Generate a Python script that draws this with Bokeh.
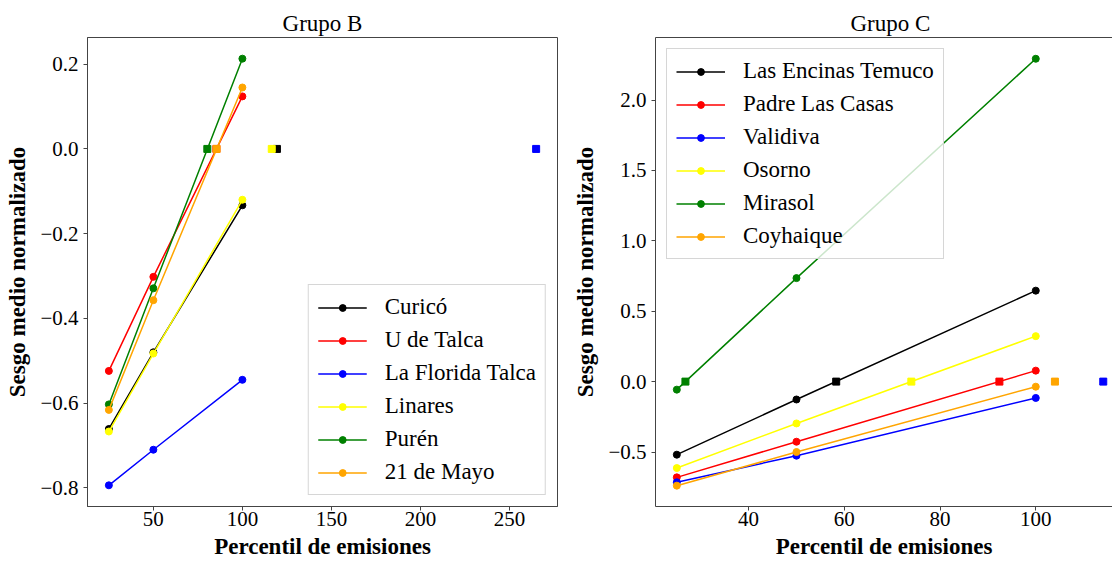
from bokeh.plotting import figure
from bokeh.layouts import row
from bokeh.models import FixedTicker, CustomJSTickFormatter, LinearAxis, Range1d
from bokeh.embed import file_html
from bokeh.resources import INLINE

# Emission percentiles evaluated for every station
percentiles = [25, 50, 100]

# ---- Grupo B ----
stations_b = ["Curicó", "U de Talca", "La Florida Talca", "Linares", "Purén", "21 de Mayo"]
colors_b = ["black", "red", "blue", "yellow", "green", "orange"]
bias_b = [
    [-0.661, -0.480, -0.133],
    [-0.524, -0.302, 0.124],
    [-0.794, -0.710, -0.545],
    [-0.667, -0.483, -0.120],
    [-0.603, -0.329, 0.213],
    [-0.616, -0.357, 0.145],
]
# percentile where the normalized bias reaches zero
zero_b = [119.4, 85.4, 265.0, 116.5, 80.3, 85.5]

# ---- Grupo C ----
stations_c = ["Las Encinas Temuco", "Padre Las Casas", "Validiva", "Osorno", "Mirasol", "Coyhaique"]
colors_c = ["black", "red", "blue", "yellow", "green", "orange"]
bias_c = [
    [-0.519, -0.127, 0.646],
    [-0.680, -0.427, 0.078],
    [-0.715, -0.526, -0.116],
    [-0.614, -0.297, 0.323],
    [-0.057, 0.735, 2.293],
    [-0.739, -0.500, -0.036],
]
zero_c = [58.3, 92.4, 114.1, 74.0, 26.8, 104.0]

xticks_b = [50, 100, 150, 200, 250]
yticks_b = [-0.8, -0.6, -0.4, -0.2, 0.0, 0.2]
xticks_c = [40, 60, 80, 100]
yticks_c = [-0.5, 0.0, 0.5, 1.0, 1.5, 2.0]

SERIF = "Liberation Serif"
FRAME = "#444444"

minus_fmt = CustomJSTickFormatter(code="""
    if (Math.abs(tick) < 1e-9) { return (0).toFixed(1); }
    return (tick < 0 ? '\u2212' : '') + Math.abs(tick).toFixed(1);
""")


def style(p, title, xticks, yticks, align="center", title_offset=0):
    p.title.text = title
    p.title.align = align
    p.title.offset = title_offset
    p.title.text_font = SERIF
    p.title.text_font_size = "23px"
    p.title.text_font_style = "normal"
    p.title.text_color = "black"
    p.title.standoff = 4
    p.xgrid.visible = False
    p.ygrid.visible = False
    p.background_fill_color = "white"
    p.border_fill_color = "white"
    for ax in (p.xaxis[0], p.yaxis[0]):
        ax.major_label_text_font = SERIF
        ax.major_label_text_font_size = "21px"
        ax.major_label_text_color = "black"
        ax.axis_label_text_font = SERIF
        ax.axis_label_text_font_size = "23px"
        ax.axis_label_text_font_style = "bold"
        ax.axis_label_text_color = "black"
        ax.minor_tick_line_color = None
        ax.major_tick_in = 0
        ax.major_tick_out = 4
        ax.axis_line_color = FRAME
        ax.major_tick_line_color = FRAME
    p.xaxis[0].ticker = FixedTicker(ticks=xticks)
    p.yaxis[0].ticker = FixedTicker(ticks=yticks)
    p.yaxis[0].formatter = minus_fmt
    p.xaxis[0].axis_label = "Percentil de emisiones"
    p.yaxis[0].axis_label = "Sesgo medio normalizado"
    p.xaxis[0].major_label_standoff = 1
    p.xaxis[0].axis_label_standoff = 5
    p.yaxis[0].major_label_standoff = 5
    p.yaxis[0].axis_label_standoff = 7


def draw(p, names, colors, values, zeros):
    for name, col, vals in zip(names, colors, values):
        p.line(percentiles, vals, line_color=col, line_width=1.5, legend_label=name)
        p.scatter(percentiles, vals, marker="circle", size=7, fill_color=col,
                  line_color=col, legend_label=name)
    for col, z in zip(colors, zeros):
        p.scatter([z], [0.0], marker="square", size=7, fill_color=col, line_color=col)


def style_legend(p, location):
    lg = p.legend[0]
    lg.location = location
    lg.margin = 11
    lg.padding = 9
    lg.spacing = 7
    lg.label_text_font = SERIF
    lg.label_text_font_size = "23px"
    lg.label_text_color = "black"
    lg.label_standoff = 18
    lg.glyph_width = 49
    lg.glyph_height = 17
    lg.label_height = 26
    lg.border_line_color = "#cccccc"
    lg.border_line_alpha = 0.8
    lg.background_fill_color = "white"
    lg.background_fill_alpha = 0.8


p1 = figure(width=568, height=561,
            x_range=Range1d(13, 277), y_range=Range1d(-0.844, 0.263),
            min_border_left=87, min_border_right=11, min_border_top=37, min_border_bottom=53,
            output_backend="svg", toolbar_location=None)
p1.outline_line_color = FRAME
style(p1, "Grupo B", xticks_b, yticks_b)
draw(p1, stations_b, colors_b, bias_b, zero_b)
style_legend(p1, "bottom_right")

p2 = figure(width=544, height=561,
            x_range=Range1d(20.545, 116.03), y_range=Range1d(-0.887, 2.444),
            min_border_left=87, min_border_right=0, min_border_top=37, min_border_bottom=53,
            output_backend="svg", toolbar_location=None)
p2.outline_line_color = None
# the panel is wider than what is shown, so the title sits right of the visible centre
style(p2, "Grupo C", xticks_c, yticks_c, align="left", title_offset=195)
# top edge of the frame, the panel runs off to the right
top = LinearAxis(ticker=FixedTicker(ticks=[]), major_label_text_font_size="0px",
                 major_tick_out=0, major_tick_in=0, minor_tick_line_color=None,
                 axis_line_color=FRAME)
p2.add_layout(top, "above")
draw(p2, stations_c, colors_c, bias_c, zero_c)
style_legend(p2, "top_left")

layout = row(p1, p2)
open("out.html", "w").write(file_html(layout, INLINE))
